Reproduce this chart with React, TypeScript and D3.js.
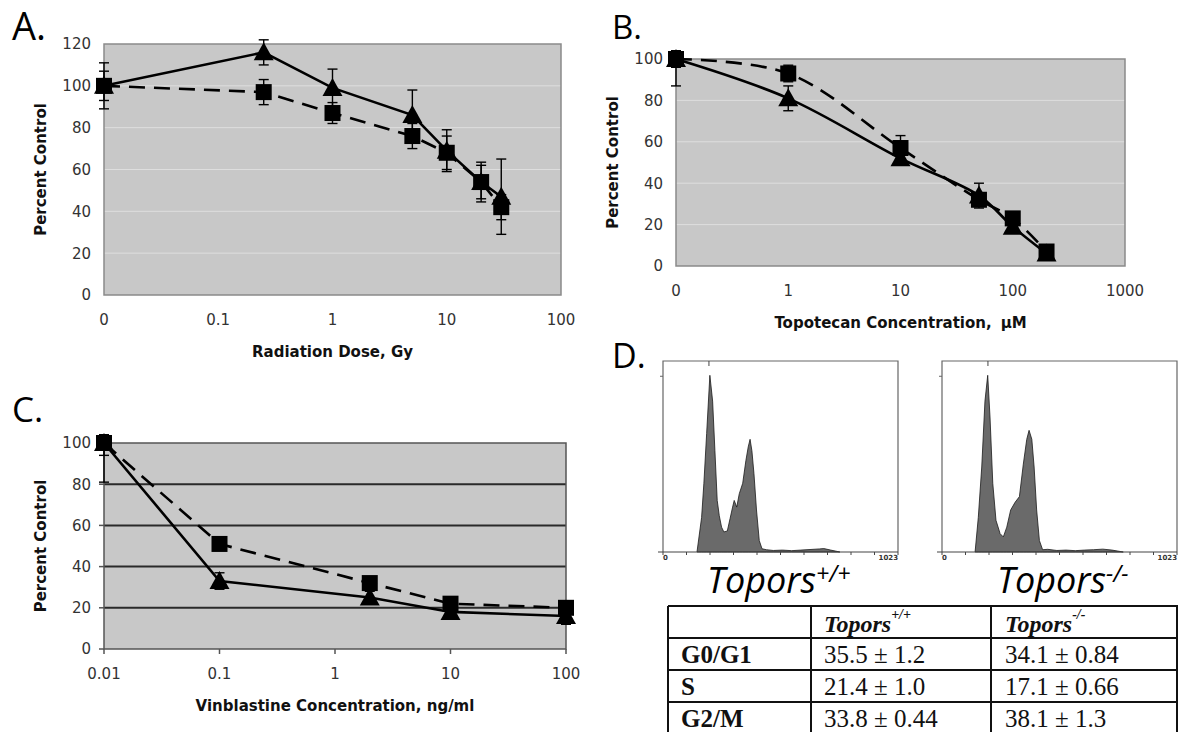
import * as d3 from "d3";

// ---------- panel A: radiation ----------
const doseA = [0.01, 0.25, 1, 5, 10, 20, 30];
const triA = [100, 116, 99, 86, 69, 54, 47];
const triErrA = [11, 6, 9, 12, 10, 9.5, 18];
const sqA = [100, 97, 87, 76, 68, 54, 42];
const sqErrA = [7, 6, 5, 6, 8, 8, 6];
const xTicksA = [0.01, 0.1, 1, 10, 100];
const xLabelsA = ["0", "0.1", "1", "10", "100"];
const yTicksA = [0, 20, 40, 60, 80, 100, 120];

// ---------- panel B: topotecan ----------
const concB = [0.1, 1, 10, 50, 100, 200];
const triB = [100, 81, 52, 34, 19, 6];
const triErrB = [13, 6, 3, 6, 3, 2];
const sqB = [100, 93, 57, 32, 23, 7];
const sqErrB = [4, 4, 6, 3, 2, 1];
const xTicksB = [0.1, 1, 10, 100, 1000];
const xLabelsB = ["0", "1", "10", "100", "1000"];
const yTicksB = [0, 20, 40, 60, 80, 100];

// ---------- panel C: vinblastine ----------
const concC = [0.01, 0.1, 2, 10, 100];
const triC = [100, 33, 25, 18, 16];
const triErrC = [6, 4, 3, 2, 4];
const sqC = [100, 51, 32, 22, 20];
const sqErrC = [19, 3, 2, 2, 2];
const xTicksC = [0.01, 0.1, 1, 10, 100];
const xLabelsC = ["0.01", "0.1", "1", "10", "100"];
const yTicksC = [0, 20, 40, 60, 80, 100];

// ---------- panel D: DNA content histograms (channel, count) ----------
const histPlusCh = [148, 168, 178, 190, 204, 216, 226, 236, 245, 255, 265, 280, 292, 303, 310, 321, 332, 347, 361, 371, 379, 387, 396, 407, 419, 431, 450, 480, 520, 560, 600, 640, 680, 700, 730, 770];
const histPlusCt = [0, 18, 36, 62, 92.5, 79, 53, 27, 19, 13, 10.5, 11, 17.5, 23.5, 27, 23.5, 30.5, 36, 48, 55, 59, 53, 41, 22, 6, 1.7, 1.2, 0.8, 1, 0.7, 1, 1.3, 1.6, 1.8, 1, 0];
const histMinusCh = [144, 158, 173, 187, 199, 209, 221, 235, 253, 267, 282, 299, 318, 337, 354, 369, 379, 391, 401, 412, 424, 438, 460, 500, 540, 580, 620, 660, 700, 740, 789];
const histMinusCt = [0, 18, 44.5, 79, 92.5, 70.7, 36, 16.6, 9.6, 7.9, 13, 22, 26, 29, 46, 59, 63.7, 59, 44.5, 22, 6, 1.2, 1.4, 0.8, 1, 0.7, 1, 1.2, 1.5, 1, 0];

const phases = ["G0/G1", "S", "G2/M"];
const plusValues = ["35.5 ± 1.2", "21.4 ± 1.0", "33.8 ± 0.44"];
const minusValues = ["34.1 ± 0.84", "17.1 ± 0.66", "38.1 ± 1.3"];

const sansFont = "'DejaVu Sans', Verdana, sans-serif";
const titleFont = "'Open Sans', 'DejaVu Sans', sans-serif";
const serifFont = "'Liberation Serif', 'Times New Roman', serif";

interface Series {
    y: number[];
    err: number[];
    marker: "tri" | "sq";
    dashed: boolean;
}

interface PanelProps {
    x0: number;
    x1: number;
    y0: number;
    y1: number;
    xs: number[];
    xDomain: [number, number];
    yTicks: number[];
    xTicks: number[];
    xLabels: string[];
    xLabel: React.ReactNode;
    series: Series[];
    smooth?: boolean;
    darkGrid?: boolean;
}

const Panel = (p: PanelProps) => {
    const yMax = p.yTicks[p.yTicks.length - 1];
    const sx = d3.scaleLog().domain(p.xDomain).range([p.x0, p.x1]);
    const sy = d3.scaleLinear().domain([0, yMax]).range([p.y1, p.y0]);
    const curve = p.smooth ? d3.curveCatmullRom.alpha(0.5) : d3.curveLinear;
    // error bars are cut a little above the plot area, as in the source
    const errCeil = yMax * 1.02 + 2;

    return (
        <g>
            <rect x={p.x0} y={p.y0} width={p.x1 - p.x0} height={p.y1 - p.y0} fill="#c8c8c8" />
            {p.yTicks.slice(1, -1).map((t) => (
                <line
                    key={t}
                    x1={p.x0}
                    x2={p.x1}
                    y1={sy(t)}
                    y2={sy(t)}
                    stroke={p.darkGrid ? "#2a2a2a" : "#dedede"}
                    strokeWidth={p.darkGrid ? 2 : 1}
                />
            ))}
            <rect
                x={p.x0}
                y={p.y0}
                width={p.x1 - p.x0}
                height={p.y1 - p.y0}
                fill="none"
                stroke={p.darkGrid ? "#555" : "#8a8a8a"}
                strokeWidth={1.5}
            />
            {p.darkGrid &&
                p.yTicks.map((t) => (
                    <line key={"yt" + t} x1={p.x0 - 5} x2={p.x0} y1={sy(t)} y2={sy(t)} stroke="#555" strokeWidth={1.5} />
                ))}
            {p.darkGrid &&
                p.xTicks.map((t) => (
                    <line key={"xt" + t} x1={sx(t)} x2={sx(t)} y1={p.y1} y2={p.y1 + 5} stroke="#555" strokeWidth={1.5} />
                ))}
            {p.yTicks.map((t) => (
                <text
                    key={"yl" + t}
                    x={p.x0 - 13}
                    y={sy(t)}
                    dy="0.36em"
                    textAnchor="end"
                    fontFamily={sansFont}
                    fontSize={15}
                    fill="#333"
                >
                    {t}
                </text>
            ))}
            {p.xTicks.map((t, i) => (
                <text
                    key={"xl" + t}
                    x={sx(t)}
                    y={p.y1 + 30}
                    textAnchor="middle"
                    fontFamily={sansFont}
                    fontSize={15}
                    fill="#333"
                >
                    {p.xLabels[i]}
                </text>
            ))}
            <text
                x={(p.x0 + p.x1) / 2}
                y={p.y1 + 62}
                textAnchor="middle"
                fontFamily={sansFont}
                fontWeight="bold"
                fontSize={15}
                fill="#111"
            >
                {p.xLabel}
            </text>
            <text
                transform={`translate(${p.x0 - 58},${(p.y0 + p.y1) / 2}) rotate(-90)`}
                textAnchor="middle"
                fontFamily={sansFont}
                fontWeight="bold"
                fontSize={15}
                fill="#111"
            >
                Percent Control
            </text>
            {p.series.map((s, si) => {
                const path = d3
                    .line<number>()
                    .x((_, i) => sx(p.xs[i]))
                    .y((d) => sy(d))
                    .curve(curve)(s.y);
                return (
                    <g key={si}>
                        <path
                            d={path || ""}
                            fill="none"
                            stroke="#000"
                            strokeWidth={2.6}
                            strokeDasharray={s.dashed ? "16,9" : undefined}
                        />
                        {s.y.map((v, i) => {
                            const cx = sx(p.xs[i]);
                            const top = sy(Math.min(v + s.err[i], errCeil));
                            const bot = sy(Math.max(v - s.err[i], 0));
                            return (
                                <g key={"e" + i} stroke="#000" strokeWidth={1.4}>
                                    <line x1={cx} x2={cx} y1={top} y2={bot} />
                                    <line x1={cx - 5} x2={cx + 5} y1={top} y2={top} />
                                    <line x1={cx - 5} x2={cx + 5} y1={bot} y2={bot} />
                                </g>
                            );
                        })}
                        {s.y.map((v, i) => {
                            const cx = sx(p.xs[i]);
                            const cy = sy(v);
                            return s.marker === "tri" ? (
                                <path
                                    key={"m" + i}
                                    transform={`translate(${cx},${cy})`}
                                    d="M0,-10L10,8L-10,8Z"
                                    fill="#000"
                                />
                            ) : (
                                <rect key={"m" + i} x={cx - 8} y={cy - 8} width={16} height={16} fill="#000" />
                            );
                        })}
                    </g>
                );
            })}
        </g>
    );
};

interface HistProps {
    x0: number;
    x1: number;
    ch: number[];
    ct: number[];
}

const Histogram = ({ x0, x1, ch, ct }: HistProps) => {
    const top = 361;
    const base = 552;
    const hx = d3.scaleLinear().domain([0, 1023]).range([x0, x1]);
    const hy = d3.scaleLinear().domain([0, 100]).range([base, top]);
    const area = d3
        .area<number>()
        .x((_, i) => hx(ch[i]))
        .y0(base)
        .y1((d) => hy(d));
    const ticks = d3.range(0, 11).map((i) => (i * 1023) / 10);
    return (
        <g>
            <path d={area(ct) || ""} fill="#6a6a6a" stroke="#1a1a1a" strokeWidth={0.8} />
            <path d={`M${x0},${base}V${top}H${x1}V${base}`} fill="none" stroke="#666" strokeWidth={1.2} />
            <line x1={x0 - 5} x2={x1} y1={base} y2={base} stroke="#444" strokeWidth={1.2} />
            <line x1={x0 - 3} x2={x0} y1={hy(92)} y2={hy(92)} stroke="#666" strokeWidth={1} />
            <line x1={hx(200)} x2={hx(200)} y1={top} y2={top + 5} stroke="#444" strokeWidth={1} />
            {ticks.map((t) => (
                <line key={t} x1={hx(t)} x2={hx(t)} y1={base} y2={base + 3} stroke="#444" strokeWidth={1} />
            ))}
            <text x={x0} y={base + 8} fontFamily={sansFont} fontWeight="bold" fontSize={7} fill="#333">
                0
            </text>
            <text x={x1} y={base + 8} textAnchor="end" fontFamily={sansFont} fontWeight="bold" fontSize={7} fill="#333">
                1023
            </text>
        </g>
    );
};

const Table = () => {
    const left = 668;
    const cols = [668, 811, 991, 1177];
    const rows = [606, 638, 670, 702];
    const textX = [681, 824, 1005];
    const base = [663, 695, 727];
    return (
        <g>
            {rows.map((r) => (
                <line key={r} x1={left} x2={1178} y1={r} y2={r} stroke="#111" strokeWidth={2} />
            ))}
            {cols.map((c) => (
                <line key={c} x1={c} x2={c} y1={606} y2={732} stroke="#111" strokeWidth={2} />
            ))}
            <text x={textX[1]} y={632} fontFamily={serifFont} fontStyle="italic" fontWeight="bold" fontSize={24} fill="#111">
                Topors
                <tspan fontSize={14} dy={-13}>+/+</tspan>
            </text>
            <text x={textX[2]} y={632} fontFamily={serifFont} fontStyle="italic" fontWeight="bold" fontSize={24} fill="#111">
                Topors
                <tspan fontSize={14} dy={-13}>-/-</tspan>
            </text>
            {phases.map((ph, i) => (
                <g key={ph} fontFamily={serifFont} fontSize={25} fill="#111">
                    <text x={textX[0]} y={base[i]} fontWeight="bold">
                        {ph}
                    </text>
                    <text x={textX[1]} y={base[i]}>{plusValues[i]}</text>
                    <text x={textX[2]} y={base[i]}>{minusValues[i]}</text>
                </g>
            ))}
        </g>
    );
};

export default function App() {
    return (
        <svg
            width={1178}
            height={732}
            style={{ position: "absolute", left: 0, top: 0, background: "#fff" }}
        >
            <text x={12} y={40} fontFamily={titleFont} fontSize={38} fill="#000">
                A.
            </text>
            <text x={612} y={39} fontFamily={titleFont} fontSize={33} fill="#000">
                B.
            </text>
            <text x={12} y={422} fontFamily={titleFont} fontSize={35} fill="#000">
                C.
            </text>
            <text x={612} y={368} fontFamily={titleFont} fontSize={34} fill="#000">
                D.
            </text>

            <Panel
                x0={104}
                x1={561}
                y0={44}
                y1={295}
                xs={doseA}
                xDomain={[0.01, 100]}
                yTicks={yTicksA}
                xTicks={xTicksA}
                xLabels={xLabelsA}
                xLabel="Radiation Dose, Gy"
                series={[
                    { y: triA, err: triErrA, marker: "tri", dashed: false },
                    { y: sqA, err: sqErrA, marker: "sq", dashed: true },
                ]}
            />
            <Panel
                x0={676}
                x1={1125}
                y0={59}
                y1={266}
                xs={concB}
                xDomain={[0.1, 1000]}
                yTicks={yTicksB}
                xTicks={xTicksB}
                xLabels={xLabelsB}
                xLabel={
                    <>
                        Topotecan Concentration,
                        <tspan dx={9}>μM</tspan>
                    </>
                }
                smooth
                series={[
                    { y: triB, err: triErrB, marker: "tri", dashed: false },
                    { y: sqB, err: sqErrB, marker: "sq", dashed: true },
                ]}
            />
            <Panel
                x0={104}
                x1={566}
                y0={443}
                y1={649}
                xs={concC}
                xDomain={[0.01, 100]}
                yTicks={yTicksC}
                xTicks={xTicksC}
                xLabels={xLabelsC}
                xLabel="Vinblastine Concentration, ng/ml"
                darkGrid
                series={[
                    { y: triC, err: triErrC, marker: "tri", dashed: false },
                    { y: sqC, err: sqErrC, marker: "sq", dashed: true },
                ]}
            />

            <Histogram x0={663} x1={898} ch={histPlusCh} ct={histPlusCt} />
            <Histogram x0={942} x1={1177} ch={histMinusCh} ct={histMinusCt} />

            <text x={707} y={593} fontFamily={titleFont} fontStyle="italic" fontSize={36} fill="#000">
                Topors
                <tspan fontSize={23} dy={-11}>+/+</tspan>
            </text>
            <text x={997} y={593} fontFamily={titleFont} fontStyle="italic" fontSize={36} fill="#000">
                Topors
                <tspan fontSize={23} dy={-11}>-/-</tspan>
            </text>

            <Table />
        </svg>
    );
}
